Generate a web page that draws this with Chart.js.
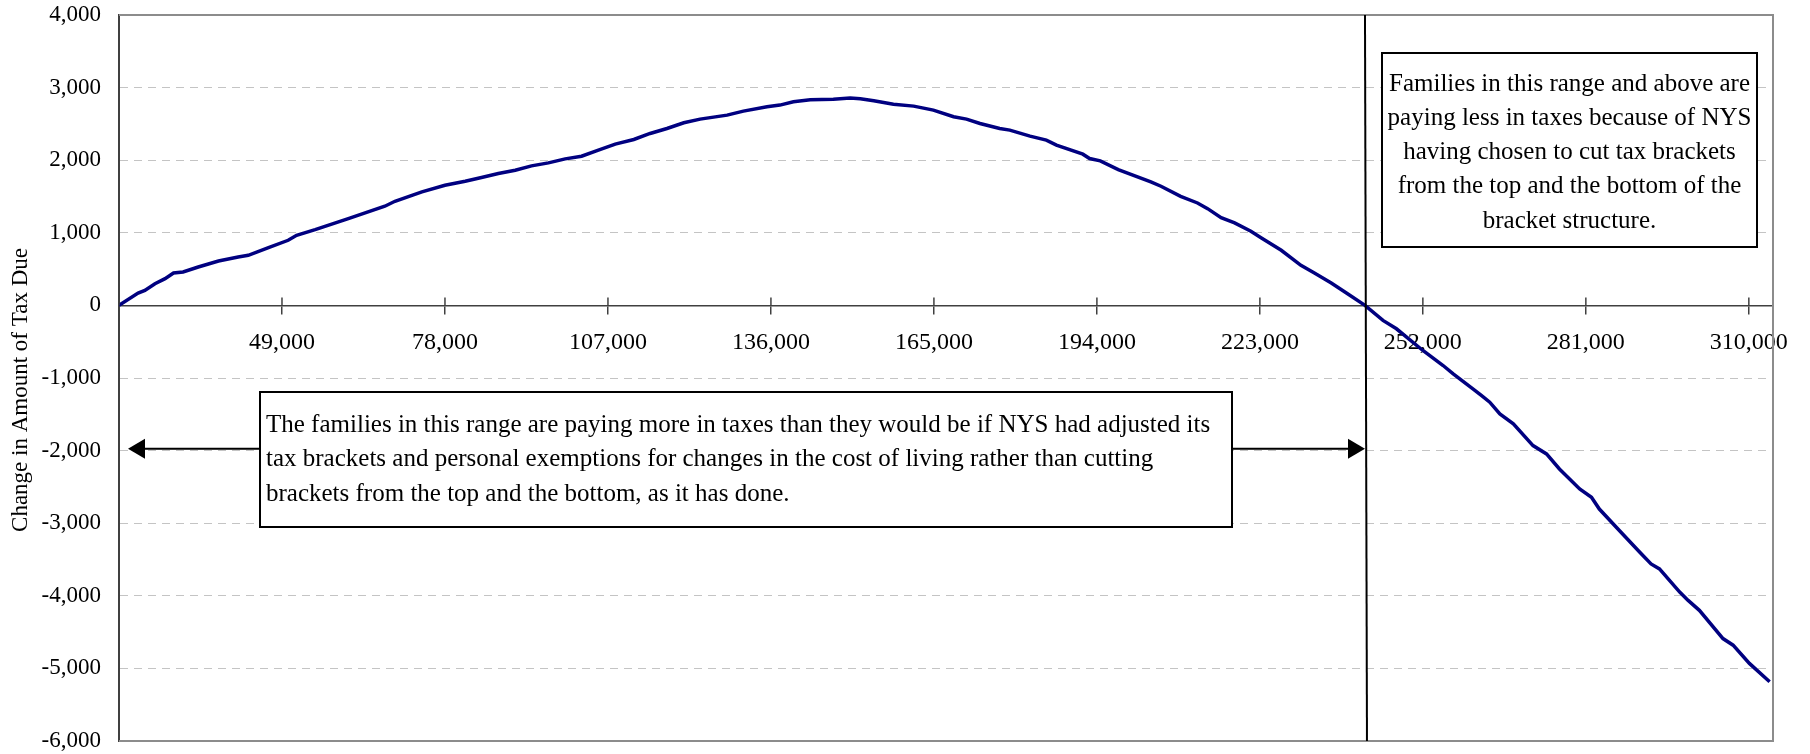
<!DOCTYPE html>
<html>
<head>
<meta charset="utf-8">
<title>Change in Amount of Tax Due</title>
<script src="https://cdn.jsdelivr.net/npm/chart.js"></script>
<style>
  html, body { margin: 0; padding: 0; background: #fff; }
  #wrap { width: 1810px; height: 754px; }
</style>
</head>
<body>
<div id="wrap"><canvas id="chart" width="1810" height="754"></canvas></div>
<script>
// family income (x) and change in tax due (y)
var incomes = [20000, 23400, 24600, 26400, 28200, 29700, 31400, 34100, 37700, 41200,
  43000, 46600, 50100, 51600, 54900, 60800, 67300, 69100, 73900, 78000,
  81600, 84500, 87500, 90500, 93400, 96400, 99400, 102300, 105300, 108300,
  111600, 114500, 117500, 120500, 123400, 128200, 131100, 135300, 137600, 140000,
  143000, 147100, 150100, 151900, 154300, 157800, 161400, 164900, 168500, 170800,
  173200, 176700, 178500, 182100, 185000, 186800, 191500, 192700, 194600, 197800,
  203600, 205400, 208900, 211900, 213700, 216100, 218500, 221400, 223200, 226800,
  230300, 232700, 235700, 238600, 241700, 244900, 247300, 252000, 255600, 257400,
  260900, 262400, 263900, 265700, 268100, 271600, 274000, 276300, 279900, 282000,
  283400, 287000, 290600, 292600, 294100, 297700, 299200, 301200, 305400, 307200,
  310100, 313700];
var taxChange = [0, 170, 207, 299, 368, 446, 460, 529, 611, 667,
  690, 795, 897, 966, 1044, 1195, 1366, 1434, 1563, 1655,
  1710, 1761, 1816, 1862, 1922, 1963, 2018, 2055, 2138, 2221,
  2285, 2368, 2437, 2515, 2566, 2621, 2676, 2736, 2759, 2805,
  2832, 2841, 2855, 2846, 2818, 2772, 2745, 2690, 2598, 2566,
  2506, 2437, 2414, 2331, 2276, 2207, 2083, 2023, 1991, 1871,
  1701, 1641, 1503, 1411, 1333, 1209, 1136, 1021, 933, 759,
  552, 446, 308, 161, 0, -207, -322, -621, -828, -943,
  -1149, -1241, -1333, -1494, -1632, -1931, -2046, -2253, -2529, -2644,
  -2805, -3104, -3401, -3561, -3629, -3949, -4063, -4200, -4589, -4680,
  -4931, -5183];

// axis ticks
var xTickValues = [20000, 49000, 78000, 107000, 136000, 165000, 194000, 223000, 252000, 281000, 310000];
var xMin = 20000, xMax = 314300;
var yMin = -6000, yMax = 4000;

// where the curve crosses zero (vertical line) and the arrow level
var crossIncome = 241700;
var arrowLevel = -1975;

var yTitle = 'Change in Amount of Tax Due';
var noteRight = ['Families in this range and above are',
  'paying less in taxes because of NYS',
  'having chosen to cut tax brackets',
  'from the top and the bottom of the',
  'bracket structure.'];
var noteBottom = ['The families in this range are paying more in taxes than they would be if NYS had adjusted its',
  'tax brackets and personal exemptions for changes in the cost of living rather than cutting',
  'brackets from the top and the bottom, as it has done.'];

var serif = "'Liberation Serif', 'Times New Roman', serif";

function arrowHead(ctx, tipX, tipY, dir) {
  ctx.beginPath();
  ctx.moveTo(tipX, tipY);
  ctx.lineTo(tipX - dir * 17, tipY - 10);
  ctx.lineTo(tipX - dir * 17, tipY + 10);
  ctx.closePath();
  ctx.fill();
}

// boxes, arrows, vertical line, frame and axis title
var annotations = {
  id: 'annotations',
  afterDraw: function (chart) {
    var ctx = chart.ctx;
    var area = chart.chartArea;
    var xs = chart.scales.x;
    var ys = chart.scales.y;
    var y0 = ys.getPixelForValue(0);
    ctx.save();

    // grey frame top / right / bottom
    ctx.strokeStyle = '#8c8c8c';
    ctx.lineWidth = 2;
    ctx.beginPath();
    ctx.moveTo(area.left, area.top);
    ctx.lineTo(area.right, area.top);
    ctx.lineTo(area.right, area.bottom);
    ctx.lineTo(area.left, area.bottom);
    ctx.stroke();

    // upper half of the tick marks on the zero axis
    ctx.strokeStyle = '#404040';
    ctx.lineWidth = 1.5;
    xs.ticks.forEach(function (t) {
      var px = xs.getPixelForValue(t.value);
      ctx.beginPath();
      ctx.moveTo(px, y0 - 8);
      ctx.lineTo(px, y0);
      ctx.stroke();
    });

    // vertical line at break-even
    var xc = xs.getPixelForValue(crossIncome);
    ctx.strokeStyle = '#000';
    ctx.lineWidth = 2;
    ctx.beginPath();
    ctx.moveTo(xc, area.top);
    ctx.lineTo(xc + 2, area.bottom);
    ctx.stroke();

    // right note box
    var rb = { left: 1382, top: 53, right: 1757, bottom: 247 };
    ctx.fillStyle = '#fff';
    ctx.fillRect(rb.left, rb.top, rb.right - rb.left, rb.bottom - rb.top);
    ctx.strokeRect(rb.left, rb.top, rb.right - rb.left, rb.bottom - rb.top);
    ctx.fillStyle = '#000';
    ctx.font = '25px ' + serif;
    ctx.textAlign = 'center';
    ctx.textBaseline = 'middle';
    noteRight.forEach(function (l, i) {
      ctx.fillText(l, (rb.left + rb.right) / 2, 84 + i * 34.3);
    });

    // bottom note box with arrows
    var bb = { left: 260, top: 392, right: 1232, bottom: 527 };
    var ya = ys.getPixelForValue(arrowLevel);
    var xl = xs.getPixelForValue(xMin) + 9;
    ctx.beginPath();
    ctx.moveTo(xl + 10, ya);
    ctx.lineTo(bb.left, ya);
    ctx.moveTo(bb.right, ya);
    ctx.lineTo(xc - 10, ya);
    ctx.stroke();
    arrowHead(ctx, xl, ya, -1);
    arrowHead(ctx, xc, ya, 1);

    ctx.fillStyle = '#fff';
    ctx.fillRect(bb.left, bb.top, bb.right - bb.left, bb.bottom - bb.top);
    ctx.strokeRect(bb.left, bb.top, bb.right - bb.left, bb.bottom - bb.top);
    ctx.fillStyle = '#000';
    ctx.textAlign = 'left';
    noteBottom.forEach(function (l, i) {
      ctx.fillText(l, 266, 425 + i * 34.5);
    });

    // y axis title
    ctx.translate(21, 390);
    ctx.rotate(-Math.PI / 2);
    ctx.textAlign = 'center';
    ctx.font = '23px ' + serif;
    ctx.fillText(yTitle, 0, 0);
    ctx.restore();
  }
};

var points = incomes.map(function (v, i) { return { x: v, y: taxChange[i] }; });

var chart = new Chart(document.getElementById('chart'), {
  type: 'line',
  data: {
    datasets: [{
      data: points,
      borderColor: '#000080',
      borderWidth: 3.5,
      pointRadius: 0,
      tension: 0,
      fill: false
    }]
  },
  options: {
    responsive: false,
    animation: false,
    layout: { padding: { top: 15, right: 37, bottom: 13, left: 0 } },
    plugins: { legend: { display: false }, tooltip: { enabled: false } },
    scales: {
      x: {
        type: 'linear',
        position: { y: 0 },
        min: xMin,
        max: xMax,
        afterBuildTicks: function (scale) {
          scale.ticks = xTickValues.map(function (v) { return { value: v }; });
        },
        afterFit: function (scale) {
          scale.paddingTop = 0;
          scale.paddingBottom = 0;
        },
        grid: { drawOnChartArea: false, drawTicks: true, tickLength: 8, color: '#404040', lineWidth: 1.5 },
        border: { display: true, color: '#404040', width: 1.5 },
        ticks: {
          color: '#000',
          font: { family: serif, size: 24 },
          padding: 15,
          maxRotation: 0,
          autoSkip: false,
          callback: function (v) { return v === xMin ? '' : v.toLocaleString('en-US'); }
        }
      },
      y: {
        min: yMin,
        max: yMax,
        afterFit: function (scale) {
          scale.width = 119;
          scale.paddingTop = 0;
          scale.paddingBottom = 0;
        },
        grid: { color: '#c4c4c4', lineWidth: 1, drawTicks: false },
        border: { display: true, color: '#404040', width: 2, dash: [8, 6] },
        ticks: {
          stepSize: 1000,
          color: '#000',
          padding: 18,
          font: { family: serif, size: 23 },
          callback: function (v) { return v.toLocaleString('en-US'); }
        }
      }
    }
  },
  plugins: [annotations]
});
</script>
</body>
</html>
